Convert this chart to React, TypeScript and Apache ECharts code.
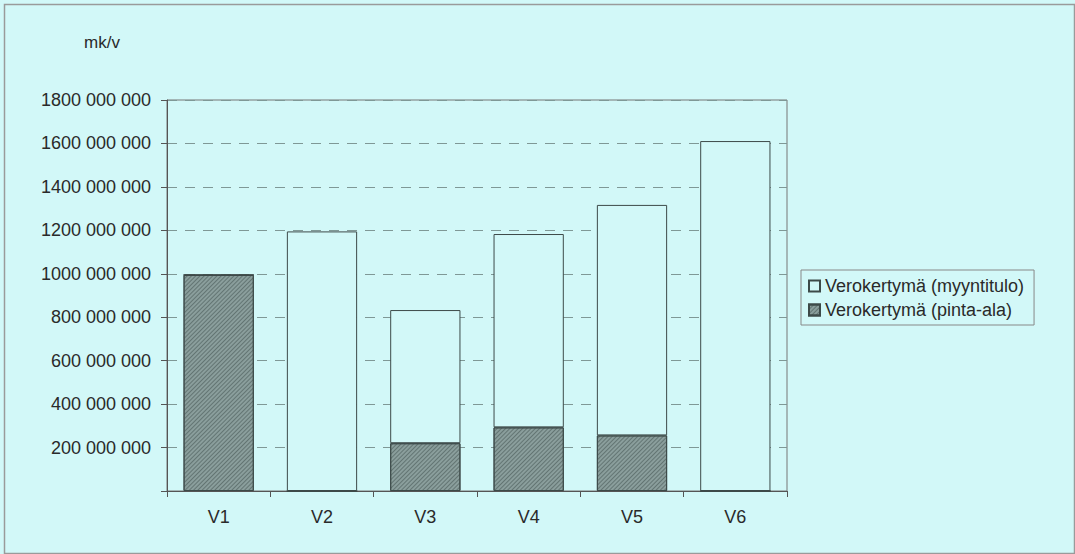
import React, { useEffect, useRef } from "react";
import * as echarts from "echarts";

const categories = ["V1", "V2", "V3", "V4", "V5", "V6"];
// values in mk/v
const pintaAla = [995e6, 0, 220e6, 293e6, 256e6, 0];
const myyntitulo = [0, 1195e6, 613e6, 890e6, 1061e6, 1611e6];
const yTickLabels: Record<number, string> = {
  0: "",
  200e6: "200 000 000",
  400e6: "400 000 000",
  600e6: "600 000 000",
  800e6: "800 000 000",
  1000e6: "1000 000 000",
  1200e6: "1200 000 000",
  1400e6: "1400 000 000",
  1600e6: "1600 000 000",
  1800e6: "1800 000 000",
};
const seriesNames = ["Verokertymä (myyntitulo)", "Verokertymä (pinta-ala)"];
const unitLabel = "mk/v";

const BG = "#d2f8f8";
const FONT = "Liberation Sans, Arial, sans-serif";
const TXT = "#2a2a2a";

export default function App() {
  const ref = useRef<HTMLDivElement>(null);
  useEffect(() => {
    if (!ref.current) return;
    const chart = echarts.init(ref.current, undefined, { renderer: "svg" });
    chart.setOption({
      animation: false,
      backgroundColor: BG,
      textStyle: { fontFamily: FONT, color: TXT },
      graphic: [
        {
          type: "rect",
          left: 2,
          top: 2,
          shape: { width: 1070, height: 549 },
          style: { fill: "none", stroke: "#9a9a9a", lineWidth: 1.5 },
          silent: true,
        },
        {
          type: "text",
          left: 84,
          top: 34,
          style: { text: unitLabel, fontSize: 17, fill: TXT, fontFamily: FONT },
        },
      ],
      grid: {
        left: 167,
        right: 288,
        top: 100,
        bottom: 63,
        show: true,
        borderColor: "#777",
        borderWidth: 1,
        backgroundColor: "transparent",
      },
      legend: {
        orient: "vertical",
        left: 801,
        top: 270,
        data: seriesNames,
        itemWidth: 11,
        itemHeight: 11,
        itemGap: 6,
        padding: [7, 10, 6, 7],
        borderColor: "#888",
        borderWidth: 1,
        textStyle: { fontSize: 18, color: TXT, fontFamily: FONT, padding: [0, 0, 0, 0] },
        icon: "rect",
      },
      xAxis: {
        type: "category",
        data: categories,
        axisLine: { lineStyle: { color: "#555" } },
        axisTick: { show: true, length: 6, lineStyle: { color: "#555" } },
        axisLabel: { fontSize: 18, color: TXT, margin: 17, fontFamily: FONT },
      },
      yAxis: {
        type: "value",
        min: 0,
        max: 1800e6,
        interval: 200e6,
        axisLine: { show: true, lineStyle: { color: "#555" } },
        axisTick: { show: true, length: 6, lineStyle: { color: "#555" } },
        axisLabel: {
          fontSize: 18,
          color: TXT,
          margin: 16,
          fontFamily: FONT,
          formatter: (v: number) => yTickLabels[Math.round(v)] ?? "",
        },
        splitLine: {
          show: true,
          lineStyle: { color: "#7f9896", type: [10, 8], width: 1 },
        },
      },
      series: [
        {
          name: seriesNames[1],
          type: "bar",
          stack: "total",
          data: pintaAla,
          barWidth: "68%",
          itemStyle: {
            color: "#8a9e9c",
            borderColor: "#3d4a49",
            borderWidth: 1,
            decal: {
              color: "rgba(60,75,74,0.5)",
              dashArrayX: [1, 0],
              dashArrayY: [1, 2],
              rotation: -Math.PI / 4,
              symbolSize: 1,
            },
          },
        },
        {
          name: seriesNames[0],
          type: "bar",
          stack: "total",
          data: myyntitulo,
          barWidth: "68%",
          itemStyle: {
            color: BG,
            borderColor: "#3d4a49",
            borderWidth: 1,
          },
        },
      ],
    });
    return () => chart.dispose();
  }, []);
  return (
    <div
      ref={ref}
      style={{ position: "absolute", left: 0, top: 0, width: 1075, height: 554 }}
    />
  );
}
